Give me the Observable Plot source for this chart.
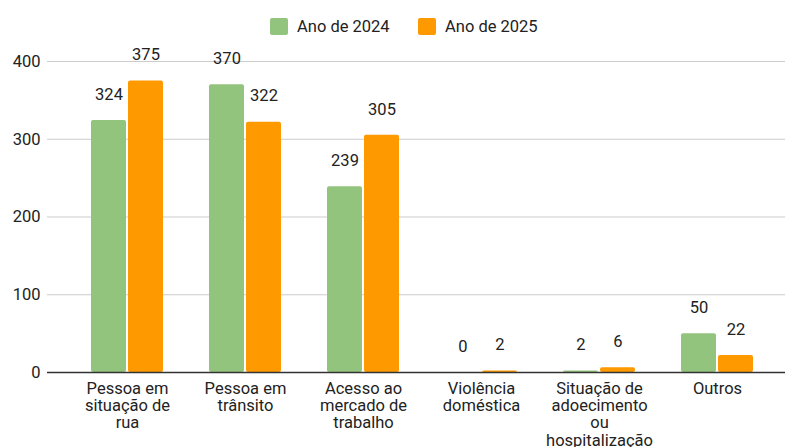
<!DOCTYPE html>
<html>
<head>
<meta charset="utf-8">
<script src="https://cdn.jsdelivr.net/npm/d3@7"></script>
<script src="https://cdn.jsdelivr.net/npm/@observablehq/plot@0.6"></script>
<style>
  html, body { margin: 0; padding: 0; background: #fff; }
  body { width: 785px; height: 447px; overflow: hidden; font-family: Roboto, Arial, sans-serif; }
  #legend { height: 40px; position: relative; font-size: 16.5px; color: #222; }
  .item { position: absolute; top: 17px; display: flex; align-items: center; }
  .sw { width: 18px; height: 17px; border-radius: 2px; margin-right: 9px; }
  #chart svg { display: block; overflow: visible; }
</style>
</head>
<body>
<div id="legend"></div>
<div id="chart"></div>
<script>
const categories = ["Pessoa em situação de rua", "Pessoa em trânsito", "Acesso ao mercado de trabalho", "Violência doméstica", "Situação de adoecimento ou hospitalização", "Outros"];
const tickLabels = ["Pessoa em\nsituação de\nrua", "Pessoa em\ntrânsito", "Acesso ao\nmercado de\ntrabalho", "Violência\ndoméstica", "Situação de\nadoecimento\nou\nhospitalização", "Outros"];
const series = ["Ano de 2024", "Ano de 2025"];
const values2024 = [324, 370, 239, 0, 2, 50];
const values2025 = [375, 322, 305, 2, 6, 22];
const colors = ["#93c47d", "#ff9900"];
const yTicks = [0, 100, 200, 300, 400];

const data = [];
categories.forEach((c, i) => {
  data.push({cat: c, series: series[0], value: values2024[i]});
  data.push({cat: c, series: series[1], value: values2025[i]});
});

const legend = document.getElementById("legend");
const legendLeft = [270, 418];
series.forEach((s, i) => {
  const it = document.createElement("div");
  it.className = "item";
  it.style.left = legendLeft[i] + "px";
  it.innerHTML = `<div class="sw" style="background:${colors[i]}"></div><span>${s}</span>`;
  legend.appendChild(it);
});

const width = 785, height = 407;
const inner = 23, mid = 60;
const off = 18.5;

const labelMap = new Map(categories.map((c, i) => [c, tickLabels[i]]));

const chart = Plot.plot({
  width, height,
  marginLeft: 47, marginRight: 0, marginTop: 21, marginBottom: 75,
  style: {fontFamily: "Roboto, Arial, sans-serif", fontSize: "16.5px", color: "#222", background: "transparent", overflow: "visible"},
  x: {domain: categories, range: [68, 776], padding: 0, axis: null, label: null},
  y: {domain: [0, 400], axis: null, label: null},
  color: {domain: series, range: colors},
  marks: [
    Plot.ruleY(yTicks.filter(d => d > 0), {stroke: "#cccccc", strokeWidth: 1}),
    Plot.barY(data.filter(d => d.series === series[0]), {x: "cat", y: "value", fill: "series", insetLeft: inner, insetRight: mid, rx: 2}),
    Plot.barY(data.filter(d => d.series === series[1]), {x: "cat", y: "value", fill: "series", insetLeft: mid, insetRight: inner, rx: 2}),
    Plot.text(data.filter(d => d.series === series[0]), {x: "cat", y: "value", text: d => String(d.value), dx: -off, dy: -26, fill: "#222", fontSize: 16.5}),
    Plot.text(data.filter(d => d.series === series[1]), {x: "cat", y: "value", text: d => String(d.value), dx: off, dy: -26, fill: "#222", fontSize: 16.5}),
    Plot.ruleY([0], {stroke: "#333", strokeWidth: 1.5}),
    Plot.axisY({ticks: yTicks, tickSize: 0, tickPadding: 7, fontSize: 16.5, fill: "#222", label: null}),
    Plot.axisX({tickSize: 0, tickPadding: 9, tickFormat: d => labelMap.get(d), lineHeight: 1.05, fontSize: 16.5, fill: "#222", label: null})
  ]
});
document.getElementById("chart").appendChild(chart);
</script>
</body>
</html>
